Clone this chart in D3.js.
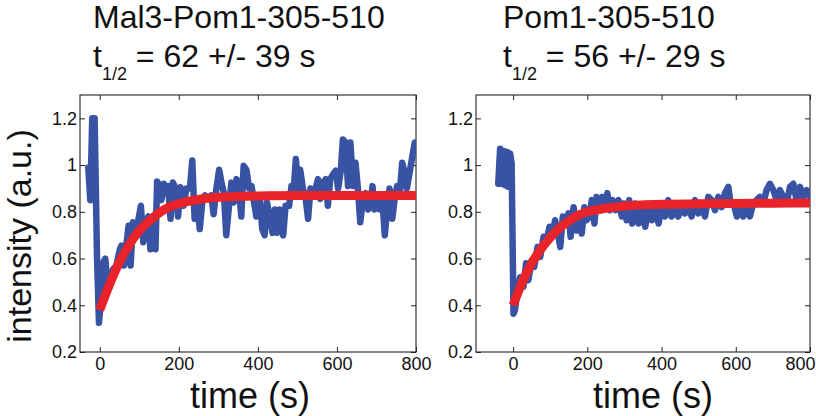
<!DOCTYPE html>
<html>
<head>
<meta charset="utf-8">
<script src="https://cdn.jsdelivr.net/npm/d3@7"></script>
<style>
  html, body { margin: 0; padding: 0; background: #fff; }
  svg { display: block; font-family: "Liberation Sans", Arial, Helvetica, sans-serif; }
</style>
</head>
<body>
<svg id="chart" width="816" height="416"></svg>
<script>
// ---------- data ----------
const xTicks = [0, 200, 400, 600, 800];
const yTicks = [0.2, 0.4, 0.6, 0.8, 1.0, 1.2];
const yTickLabels = ["0.2", "0.4", "0.6", "0.8", "1", "1.2"];

const titles = ["Mal3-Pom1-305-510", "Pom1-305-510"];
const halfTimes = ["62 +/- 39 s", "56 +/- 29 s"];

// left panel: measured trace (time s, intensity)
const leftTime = [-29,-24,-19,-13,-7,-2,4,8,14,19,25,34,42,51,55,61,67,73,78,84,91,97,104,110,116,123,128,135,141,145,152,156,162,167,173,179,185,192,198,204,212,219,228,234,240,246,253,260,266,274,282,288,295,302,308,314,320,327,333,339,346,352,358,364,371,378,384,389,396,405,411,417,423,430,437,443,449,455,464,470,479,485,491,496,502,507,514,521,527,533,540,546,552,558,565,572,577,583,590,597,603,610,615,622,628,634,641,647,653,659,666,673,679,685,690,695,701,708,715,721,727,733,740,746,752,759,765,771,777,784,791,797];
const leftIntensity = [0.99,0.85,1.20,1.20,0.61,0.325,0.44,0.58,0.60,0.50,0.51,0.555,0.57,0.64,0.655,0.57,0.655,0.74,0.57,0.755,0.71,0.76,0.826,0.67,0.755,0.78,0.64,0.78,0.64,0.93,0.91,0.85,0.92,0.88,0.91,0.77,0.925,0.90,0.78,0.905,0.826,0.90,0.90,1.02,0.77,0.84,0.726,0.855,0.87,0.855,0.87,0.79,0.90,0.98,0.925,0.88,0.70,0.826,0.925,0.84,0.94,0.91,0.78,0.997,0.98,0.90,0.91,0.855,0.78,0.855,0.726,0.70,0.84,0.78,0.71,0.81,0.71,0.81,0.70,0.826,0.826,0.91,0.90,1.026,0.90,0.98,0.90,0.855,0.77,0.90,0.87,0.90,0.94,0.855,0.925,0.94,0.826,0.94,0.96,0.976,0.90,0.98,1.11,1.097,0.91,1.097,0.91,1.01,0.90,0.755,0.855,0.88,0.81,0.84,0.91,0.81,0.87,0.81,0.855,0.70,0.81,0.90,0.77,0.855,0.91,0.88,1.01,0.97,0.90,0.97,1.04,1.097];
// left panel: fitted recovery curve
const leftFitTime = [0,25,50,75,100,125,150,175,200,250,300,350,400,500,600,700,800];
const leftFitValue = [0.38,0.49,0.585,0.66,0.72,0.76,0.795,0.82,0.835,0.853,0.862,0.866,0.868,0.87,0.87,0.87,0.87];

// right panel: measured trace
const rightTime = [-40,-35,-31,-26,-22,-17,-13,-8,-4,1,5,12,19,28,35,41,50,57,66,73,82,89,98,105,113,119,127,134,140,149,155,163,172,179,185,192,198,206,212,219,225,233,240,247,254,261,268,276,284,293,299,306,313,321,329,338,347,356,365,374,383,392,400,409,418,427,436,445,454,463,472,481,490,499,508,517,526,535,544,553,562,571,580,586,594,603,612,620,630,638,647,656,665,674,683,692,701,710,719,728,737,746,755,764,773,782,791,800];
const rightIntensity = [0.92,1.07,0.92,1.06,0.914,1.057,0.907,1.05,1.007,0.364,0.38,0.464,0.52,0.48,0.58,0.507,0.593,0.564,0.65,0.607,0.693,0.664,0.736,0.693,0.764,0.72,0.65,0.78,0.75,0.793,0.693,0.82,0.72,0.78,0.707,0.82,0.764,0.78,0.85,0.75,0.864,0.807,0.864,0.82,0.88,0.807,0.85,0.807,0.85,0.78,0.836,0.764,0.85,0.75,0.836,0.75,0.807,0.736,0.82,0.764,0.807,0.75,0.82,0.78,0.85,0.78,0.807,0.78,0.82,0.793,0.829,0.78,0.85,0.793,0.82,0.78,0.864,0.85,0.807,0.864,0.82,0.88,0.907,0.836,0.836,0.78,0.807,0.78,0.82,0.78,0.836,0.85,0.864,0.836,0.893,0.92,0.893,0.85,0.893,0.864,0.836,0.907,0.92,0.85,0.907,0.864,0.893,0.864];
// right panel: fitted recovery curve
const rightFitTime = [0,25,50,75,100,125,150,175,200,250,300,400,500,600,700,800];
const rightFitValue = [0.40,0.50,0.58,0.64,0.69,0.73,0.76,0.785,0.80,0.815,0.825,0.832,0.835,0.836,0.837,0.838];

// ---------- layout ----------
const panels = [
  { left: 80, right: 416, xMin: -50, titleX: 93, xLabelX: 250,
    time: leftTime, val: leftIntensity, fitT: leftFitTime, fitV: leftFitValue },
  { left: 476, right: 810, xMin: -100, titleX: 503, xLabelX: 653,
    time: rightTime, val: rightIntensity, fitT: rightFitTime, fitV: rightFitValue }
];
const plotTop = 95, plotBottom = 352;
const blue = "#3953a4", red = "#e8232a";
const W = 816;

const svg = d3.select("#chart");

panels.forEach((p, i) => {
  const x = d3.scaleLinear().domain([p.xMin, 800]).range([p.left, p.right]);
  const y = d3.scaleLinear().domain([0.2, 1.3]).range([plotBottom, plotTop]);
  const g = svg.append("g");

  const clipId = "clip" + i;
  g.append("clipPath").attr("id", clipId)
    .append("rect").attr("x", p.left).attr("y", plotTop)
    .attr("width", p.right - p.left).attr("height", plotBottom - plotTop);

  // frame
  g.append("rect").attr("x", p.left).attr("y", plotTop)
    .attr("width", p.right - p.left).attr("height", plotBottom - plotTop)
    .attr("fill", "#fff").attr("stroke", "#222").attr("stroke-width", 1.1);

  // axes (ticks inward, MATLAB style)
  const axB = d3.axisBottom(x).tickValues(xTicks).tickSizeInner(-5).tickSizeOuter(0).tickPadding(5);
  const axT = d3.axisTop(x).tickValues(xTicks).tickSizeInner(-5).tickSizeOuter(0).tickFormat("");
  const axL = d3.axisLeft(y).tickValues(yTicks).tickSizeInner(-5).tickSizeOuter(0).tickPadding(3)
    .tickFormat((d, k) => yTickLabels[k]);
  const axR = d3.axisRight(y).tickValues(yTicks).tickSizeInner(-5).tickSizeOuter(0).tickFormat("");

  [[axB, `translate(0,${plotBottom})`], [axT, `translate(0,${plotTop})`],
   [axL, `translate(${p.left},0)`], [axR, `translate(${p.right},0)`]].forEach(([ax, tr], k) => {
    const a = g.append("g").attr("transform", tr).call(ax);
    a.select(".domain").remove();
    a.selectAll("line").attr("stroke", "#222");
    a.selectAll("text").attr("font-size", 18).attr("fill", "#111")
      .attr("font-family", "Liberation Sans, Arial, sans-serif");
    if (k === 0) {
      // keep the last tick label inside the picture, as in the reference
      a.selectAll(".tick").each(function(d) {
        const px = x(d);
        if (px + 16 > W) {
          d3.select(this).select("text").attr("text-anchor", "end").attr("x", W - 1 - px);
        }
      });
    }
  });

  // data
  const plot = g.append("g").attr("clip-path", `url(#${clipId})`);
  const raw = p.time.map((t, k) => [t, p.val[k]]);
  plot.append("path").datum(raw)
    .attr("fill", "none").attr("stroke", blue).attr("stroke-width", 6.5)
    .attr("stroke-linejoin", "round").attr("stroke-linecap", "round")
    .attr("d", d3.line().x(d => x(d[0])).y(d => y(d[1])));

  const fit = p.fitT.map((t, k) => [t, p.fitV[k]]);
  plot.append("path").datum(fit)
    .attr("fill", "none").attr("stroke", red).attr("stroke-width", 9)
    .attr("stroke-linejoin", "round").attr("stroke-linecap", "butt")
    .attr("d", d3.line().curve(d3.curveMonotoneX).x(d => x(d[0])).y(d => y(d[1])));

  // title
  g.append("text").attr("x", p.titleX).attr("y", 28)
    .attr("font-size", 32).attr("fill", "#111").text(titles[i]);
  const t2 = g.append("text").attr("x", p.titleX).attr("y", 67)
    .attr("font-size", 32).attr("fill", "#111");
  t2.append("tspan").text("t");
  t2.append("tspan").attr("font-size", 18).attr("dy", 13).text("1/2");
  t2.append("tspan").attr("dy", -13).text(" = " + halfTimes[i]);

  // x label
  g.append("text").attr("x", p.xLabelX).attr("y", 407.5)
    .attr("text-anchor", "middle").attr("font-size", 36).attr("fill", "#111")
    .text("time (s)");
});

// y label
svg.append("text")
  .attr("transform", "translate(31,236) rotate(-90)")
  .attr("text-anchor", "middle").attr("font-size", 34).attr("fill", "#111")
  .text("intensity (a.u.)");
</script>
</body>
</html>
